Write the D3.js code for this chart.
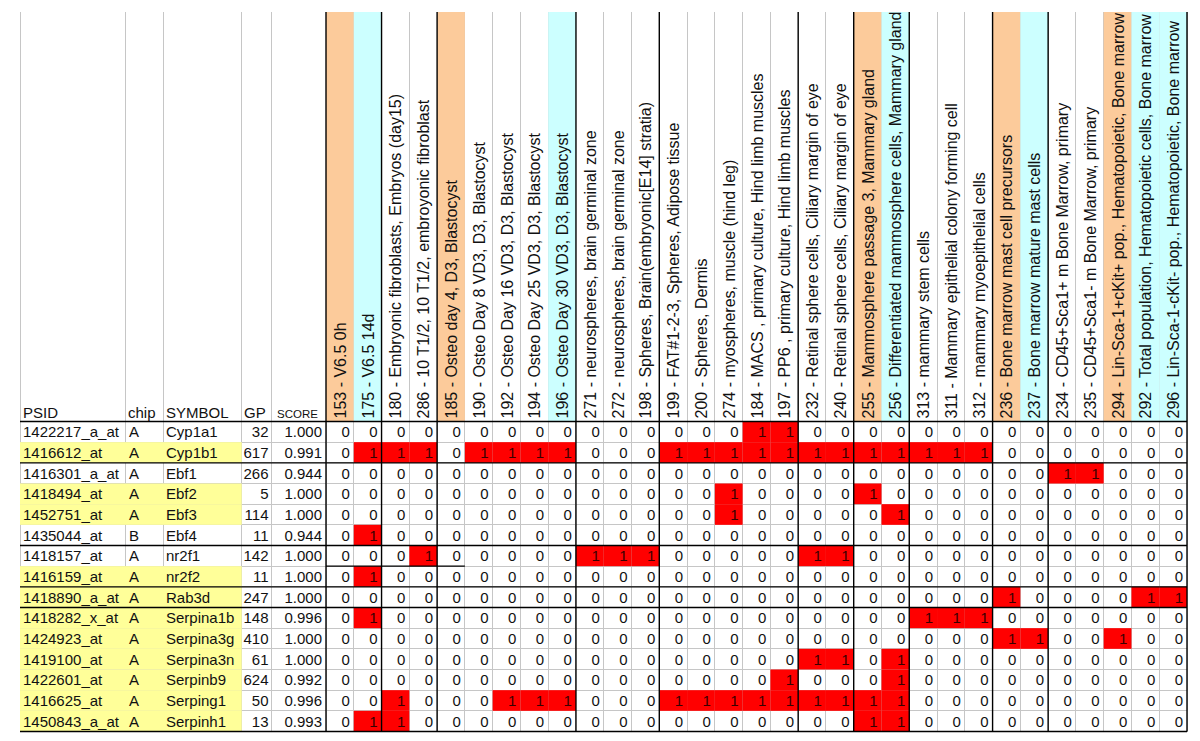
<!DOCTYPE html>
<html><head><meta charset="utf-8">
<script src="https://cdn.jsdelivr.net/npm/d3@7"></script>
<style>
body{margin:0;background:#fff}
svg{display:block}
text{font-family:Arial,"Liberation Sans",sans-serif}
</style>
</head><body>
<svg id="chart" width="1200" height="741"></svg>
<script>
// ---------------- DATA ----------------
const sampleLabels = [
  "153 - V6.5 0h",
  "175 - V6.5 14d",
  "180 - Embryonic fibroblasts, Embryos (day15)",
  "286 - 10 T1/2, 10 T1/2, embroyonic fibroblast",
  "185 - Osteo day 4, D3, Blastocyst",
  "190 - Osteo Day 8 VD3, D3, Blastocyst",
  "192 - Osteo Day 16 VD3, D3, Blastocyst",
  "194 - Osteo Day 25 VD3, D3, Blastocyst",
  "196 - Osteo Day 30 VD3, D3, Blastocyst",
  "271 - neurospheres, brain germinal zone",
  "272 - neurospheres, brain germinal zone",
  "198 - Spheres, Brain(embryonic[E14] stratia)",
  "199 - FAT#1-2-3, Spheres, Adipose tissue",
  "200 - Spheres, Dermis",
  "274 - myospheres, muscle (hind leg)",
  "184 - MACS , primary culture, Hind limb muscles",
  "197 - PP6 , primary culture, Hind limb muscles",
  "232 - Retinal sphere cells, Ciliary margin of eye",
  "240 - Retinal sphere cells, Ciliary margin of eye",
  "255 - Mammosphere passage 3, Mammary gland",
  "256 - Differentiated mammosphere cells, Mammary gland",
  "313 - mammary stem cells",
  "311 - Mammary epithelial colony forming cell",
  "312 - mammary myoepithelial cells",
  "236 - Bone marrow mast cell precursors",
  "237 - Bone marrow mature mast cells",
  "234 - CD45+Sca1+ m Bone Marrow, primary",
  "235 - CD45+Sca1- m Bone Marrow, primary",
  "294 - Lin-Sca-1+cKit+ pop., Hematopoietic, Bone marrow",
  "292 - Total population, Hematopoietic cells, Bone marrow",
  "296 - Lin-Sca-1-cKit- pop., Hematopoietic, Bone marrow"
];
const referenceSamples = ["153","185","255","236","294"];
const comparisonSamples = ["175","196","256","237","292","296"];
const sampleGroupSizes = [2,2,5,3,5,2,2,3,2,5];

const headerNames = ["PSID","chip","SYMBOL","GP","SCORE"];
const psids = ["1422217_a_at","1416612_at","1416301_a_at","1418494_at","1452751_at","1435044_at","1418157_at","1416159_at","1418890_a_at","1418282_x_at","1424923_at","1419100_at","1422601_at","1416625_at","1450843_a_at"];
const chips = ["A","A","A","A","A","B","A","A","A","A","A","A","A","A","A"];
const symbols = ["Cyp1a1","Cyp1b1","Ebf1","Ebf2","Ebf3","Ebf4","nr2f1","nr2f2","Rab3d","Serpina1b","Serpina3g","Serpina3n","Serpinb9","Serping1","Serpinh1"];
const gp = [32,617,266,5,114,11,142,11,247,148,410,61,624,50,13];
const scores = ["1.000","0.991","0.944","1.000","1.000","0.944","1.000","1.000","1.000","0.996","1.000","1.000","0.992","0.996","0.993"];
const highlightedRows = [false,true,false,true,true,false,false,true,true,true,true,true,true,true,true];
const rowGroupSizes = [2,4,2,1,6];

const values = [
  [0,0,0,0,0,0,0,0,0,0,0,0,0,0,0,1,1,0,0,0,0,0,0,0,0,0,0,0,0,0,0],
  [0,1,1,1,0,1,1,1,1,0,0,0,1,1,1,1,1,1,1,1,1,1,1,1,0,0,0,0,0,0,0],
  [0,0,0,0,0,0,0,0,0,0,0,0,0,0,0,0,0,0,0,0,0,0,0,0,0,0,1,1,0,0,0],
  [0,0,0,0,0,0,0,0,0,0,0,0,0,0,1,0,0,0,0,1,0,0,0,0,0,0,0,0,0,0,0],
  [0,0,0,0,0,0,0,0,0,0,0,0,0,0,1,0,0,0,0,0,1,0,0,0,0,0,0,0,0,0,0],
  [0,1,0,0,0,0,0,0,0,0,0,0,0,0,0,0,0,0,0,0,0,0,0,0,0,0,0,0,0,0,0],
  [0,0,0,1,0,0,0,0,0,1,1,1,0,0,0,0,0,1,1,0,0,0,0,0,0,0,0,0,0,0,0],
  [0,1,0,0,0,0,0,0,0,0,0,0,0,0,0,0,0,0,0,0,0,0,0,0,0,0,0,0,0,0,0],
  [0,0,0,0,0,0,0,0,0,0,0,0,0,0,0,0,0,0,0,0,0,0,0,0,1,0,0,0,0,1,1],
  [0,1,0,0,0,0,0,0,0,0,0,0,0,0,0,0,0,0,0,0,0,1,1,1,0,0,0,0,0,0,0],
  [0,0,0,0,0,0,0,0,0,0,0,0,0,0,0,0,0,0,0,0,0,0,0,0,1,1,0,0,1,0,0],
  [0,0,0,0,0,0,0,0,0,0,0,0,0,0,0,0,0,1,1,0,1,0,0,0,0,0,0,0,0,0,0],
  [0,0,0,0,0,0,0,0,0,0,0,0,0,0,0,0,1,0,0,0,1,0,0,0,0,0,0,0,0,0,0],
  [0,0,1,0,0,0,1,1,1,0,0,0,1,1,1,1,1,1,1,1,1,0,0,0,0,0,0,0,0,0,0],
  [0,1,1,0,0,0,0,0,0,0,0,0,0,0,0,0,0,0,0,1,1,0,0,0,0,0,0,0,0,0,0]
];

// ---------------- LAYOUT ----------------
const svg = d3.select("#chart");
const topY = 12, headerBottom = 421.5, bottomY = 731.5;
const leftX = 20, dataLeft = 326, rightX = 1187;
const leftEdges = [20, 125, 163.3, 241.7, 271.7, 326];
const FS = 15, HFS = 16;
const sampleIds = sampleLabels.map(s => s.split(" - ")[0]);

const x = d3.scaleBand().domain(sampleIds).range([dataLeft, rightX]);
const y = d3.scaleBand().domain(psids).range([headerBottom, bottomY]);
const bw = x.bandwidth(), bh = y.bandwidth();

const grid = "#c6c6c6";

// gridlines (under fills)
const gl = svg.append("g").attr("stroke", grid).attr("stroke-width", 1).attr("shape-rendering","crispEdges");
const allVx = leftEdges.concat(sampleIds.map(id => x(id) + bw));
allVx.forEach(vx => gl.append("line").attr("x1", vx).attr("x2", vx).attr("y1", topY).attr("y2", bottomY));
psids.forEach(p => gl.append("line").attr("x1", leftX).attr("x2", rightX).attr("y1", y(p) + bh).attr("y2", y(p) + bh));

// header fills
const hf = svg.append("g");
sampleIds.forEach(id => {
  let c = null;
  if (referenceSamples.includes(id)) c = "#fccb9b";
  else if (comparisonSamples.includes(id)) c = "#ccffff";
  if (c) hf.append("rect").attr("x", x(id)).attr("y", topY).attr("width", bw).attr("height", headerBottom - topY).attr("fill", c);
});

// yellow highlighted rows
psids.forEach((p, i) => {
  if (highlightedRows[i]) svg.append("rect").attr("x", leftX).attr("y", y(p)).attr("width", leftEdges[3] - leftX).attr("height", bh).attr("fill", "#ffff99");
});

// cells
const cellData = [];
psids.forEach((p, r) => sampleIds.forEach((s, c) => cellData.push({p, s, v: values[r][c]})));
const cells = svg.append("g");
cells.selectAll("rect").data(cellData.filter(d => d.v === 1)).join("rect")
  .attr("x", d => x(d.s)).attr("y", d => y(d.p)).attr("width", bw).attr("height", bh)
  .attr("fill", "#ff0000");
cells.selectAll("text").data(cellData).join("text")
  .attr("x", d => x(d.s) + bw - 4).attr("y", d => y(d.p) + bh / 2 + 5.5)
  .attr("text-anchor", "end").attr("font-size", FS)
  .attr("fill", d => d.v === 1 ? "#3a0000" : "#111")
  .text(d => d.v);

// header labels (rotated)
svg.append("g").selectAll("text").data(sampleLabels).join("text")
  .attr("transform", (d, i) => `translate(${x(sampleIds[i]) + bw / 2 + 6},${headerBottom - 3}) rotate(-90)`)
  .attr("font-size", HFS).attr("fill", "#111")
  .text(d => d);

// left column headers
const lh = svg.append("g").attr("fill", "#111");
lh.append("text").attr("x", 23).attr("y", 418).attr("font-size", FS).text(headerNames[0]);
lh.append("text").attr("x", 128).attr("y", 418).attr("font-size", FS).text(headerNames[1]);
lh.append("text").attr("x", 166).attr("y", 418).attr("font-size", FS).text(headerNames[2]);
lh.append("text").attr("x", 244).attr("y", 418).attr("font-size", FS).text(headerNames[3]);
lh.append("text").attr("x", 277).attr("y", 418).attr("font-size", 11.5).text(headerNames[4]);

// left column values
const lv = svg.append("g").attr("fill", "#111").attr("font-size", FS);
psids.forEach((p, i) => {
  const by = y(p) + bh / 2 + 5.5;
  lv.append("text").attr("x", 23).attr("y", by).text(p);
  lv.append("text").attr("x", 129).attr("y", by).text(chips[i]);
  lv.append("text").attr("x", 166).attr("y", by).text(symbols[i]);
  lv.append("text").attr("x", 268.5).attr("y", by).attr("text-anchor", "end").text(gp[i]);
  lv.append("text").attr("x", 322).attr("y", by).attr("text-anchor", "end").text(scores[i]);
});

// black borders
const bl = svg.append("g").attr("stroke", "#000").attr("stroke-width", 1.4);
bl.append("line").attr("x1", dataLeft).attr("x2", dataLeft).attr("y1", topY).attr("y2", bottomY);
let acc = 0;
sampleGroupSizes.forEach(n => {
  acc += n;
  const vx = x(sampleIds[acc - 1]) + bw;
  bl.append("line").attr("x1", vx).attr("x2", vx).attr("y1", topY).attr("y2", bottomY);
});
bl.append("line").attr("x1", leftX).attr("x2", rightX).attr("y1", headerBottom).attr("y2", headerBottom);
let racc = 0;
rowGroupSizes.forEach(n => {
  racc += n;
  const hy = y(psids[racc - 1]) + bh;
  bl.append("line").attr("x1", leftX).attr("x2", rightX).attr("y1", hy).attr("y2", hy);
});
// partial border under nr2f1
bl.append("line").attr("x1", dataLeft).attr("x2", x(sampleIds[4]) + bw)
  .attr("y1", y(psids[6]) + bh).attr("y2", y(psids[6]) + bh);
</script>
</body></html>
